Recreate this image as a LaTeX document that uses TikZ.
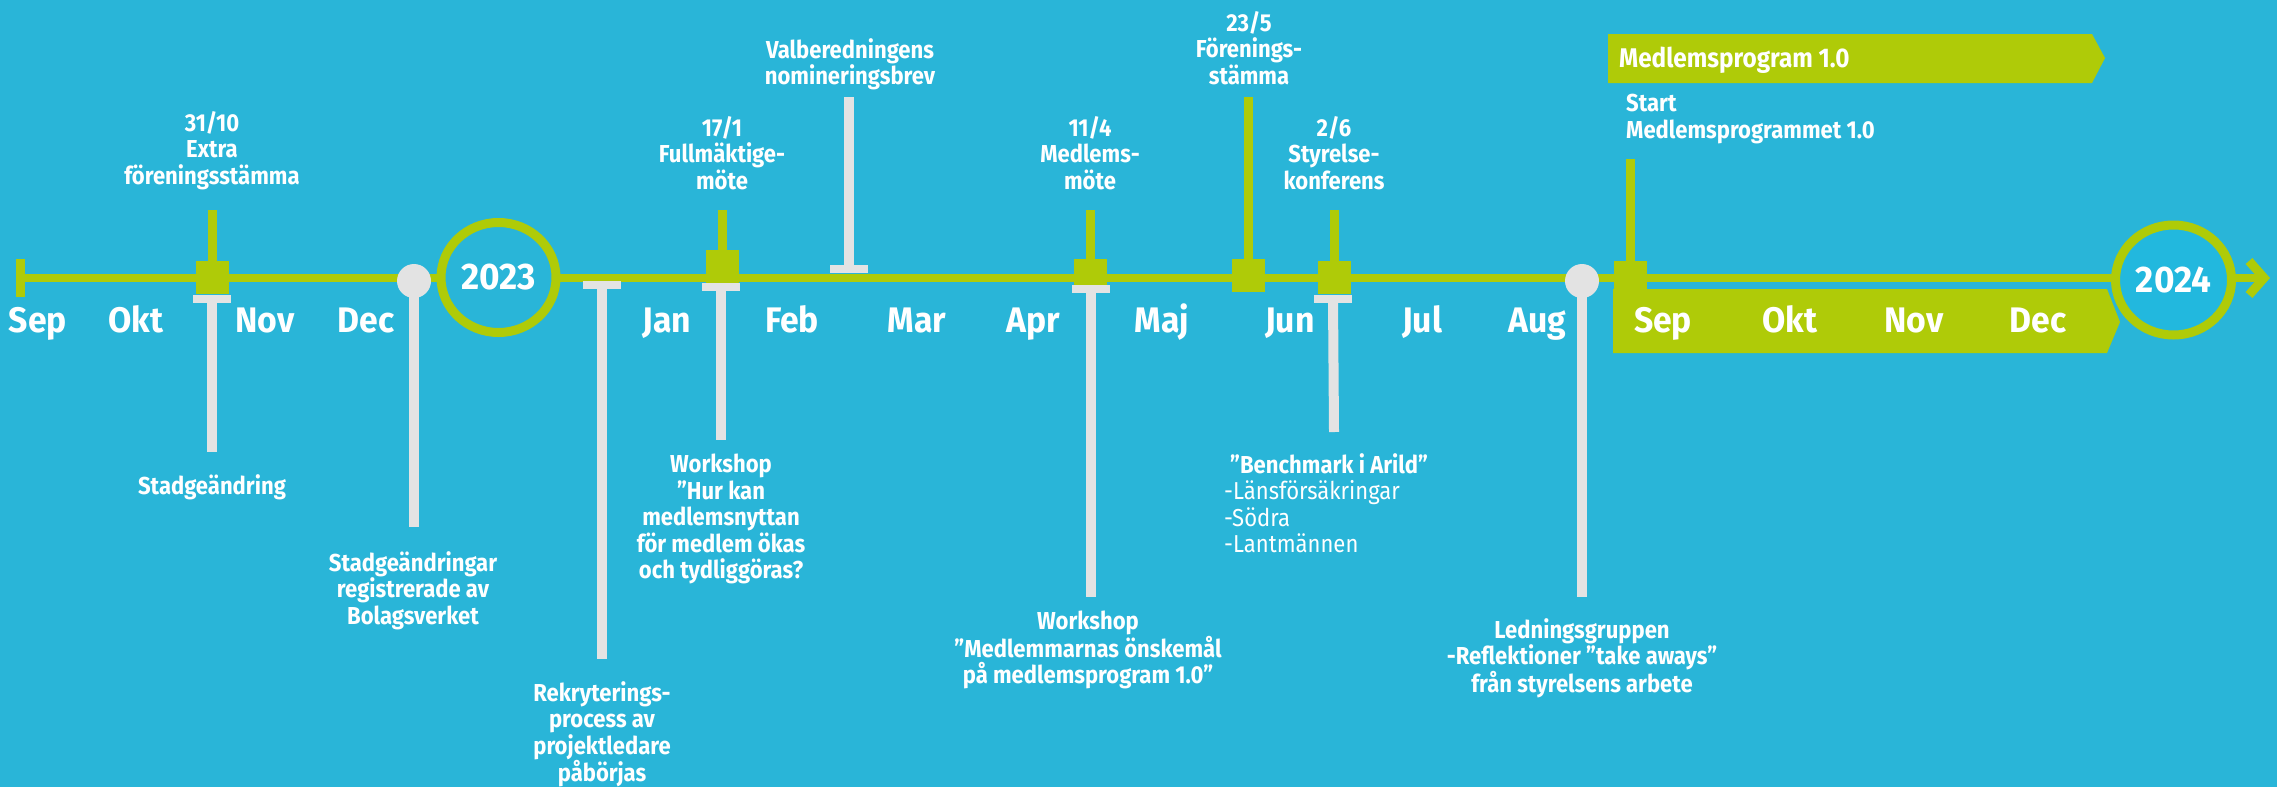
\documentclass[tikz,border=0pt]{standalone}
\usepackage{fontspec}
\setmainfont{Fira Sans}[FakeStretch=0.9]
\newfontfamily\monthfont{Fira Sans}[FakeStretch=0.95]
\usetikzlibrary{shapes.geometric}
\definecolor{bg}{HTML}{29B5D8}
\definecolor{tlgreen}{HTML}{AFCB08}
\definecolor{tlgray}{HTML}{E3E3E3}
\definecolor{yearfill}{HTML}{22B8DE}
\begin{document}
\begin{tikzpicture}[x=1pt,y=-1pt,
  lbl/.style={text=white,font=\bfseries\fontsize{24.5}{26.5}\selectfont,align=center,inner sep=0pt,anchor=north},
  lbll/.style={lbl,align=left,anchor=north west},
  month/.style={text=white,font=\monthfont\bfseries\fontsize{35.5}{35.5}\selectfont,anchor=base,inner sep=0pt},
  gstick/.style={draw=tlgreen,line width=9pt},
  ystick/.style={draw=tlgray,line width=10pt},
  sq/.style={fill=tlgreen,minimum size=33pt,inner sep=0pt},
  gbar/.style={fill=tlgray,minimum width=38pt,minimum height=8pt,inner sep=0pt},
  gdot/.style={circle,fill=tlgray,minimum size=34pt,inner sep=0pt},
  yearc/.style={ellipse,draw=tlgreen,line width=9pt,minimum width=115pt,minimum height=110pt,inner sep=0pt,text=white,font=\monthfont\bfseries\fontsize{37}{37}\selectfont},
]
\fill[bg] (0,0) rectangle (2277,787);
\useasboundingbox (0,0) rectangle (2277,787);

% main line
\coordinate (start) at (20,278);
\coordinate (tip) at (2264,278);
\draw[tlgreen,line width=8pt] (start) -- (tip);
\fill[tlgreen] (15.5,259) rectangle (24.5,297);
\draw[tlgreen,line width=9pt] (2249,261) -- (tip) -- (2249,295);

% 2024 band
\fill[tlgreen] (1613,289) -- (2107,289) -- (2120,322) -- (2107,353) -- (1613,353) -- cycle;
% banner
\fill[tlgreen] (1608,34) -- (2092,34) -- (2105,58) -- (2092,83) -- (1608,83) -- cycle;
\node[text=white,font=\bfseries\fontsize{27}{27}\selectfont,anchor=base west,inner sep=0pt] (banner) at (1619,67) {Medlemsprogram 1.0};

% year circles
\node[yearc,fill=bg] (y23) at (498.5,277.5) {2023};
\node[yearc,fill=yearfill,minimum width=116pt,minimum height=110pt] (y24) at (2173.5,280) {2024};

% months
\foreach \m/\x in {Sep/38,Okt/136,Nov/265,Dec/366,Jan/667,Feb/792,Mar/917,Apr/1033,Maj/1162,Jun/1290,Jul/1422,Aug/1537,Sep/1663,Okt/1790,Nov/1914,Dec/2038}
  \node[month] (mon-\x) at (\x,332) {\m};

% ---------- labels ----------
\node[lbl] (l3110) at (212,111) {31/10\\Extra\\föreningsstämma};
\node[lbl] (lstad) at (212,474) {Stadgeändring};
\node[lbl] (lreg) at (413,551) {Stadgeändringar\\registrerade av\\Bolagsverket};
\node[lbl] (lrek) at (602,681) {Rekryterings-\\process av\\projektledare\\påbörjas};
\node[lbl] (l171) at (722,116) {17/1\\Fullmäktige-\\möte};
\node[lbl] (lws1) at (721,454) {Workshop\\”Hur kan\\medlemsnyttan\\för medlem ökas\\och tydliggöras?};
\node[lbl] (lval) at (850,38) {Valberedningens\\nomineringsbrev};
\node[lbl] (l114) at (1090,116) {11/4\\Medlems-\\möte};
\node[lbl] (lws2) at (1088,611) {Workshop\\”Medlemmarnas önskemål\\på medlemsprogram 1.0”};
\node[lbl] (l235) at (1249,11) {23/5\\Förenings-\\stämma};
\node[lbl] (l26) at (1334,116) {2/6\\Styrelse-\\konferens};
\node[lbll] (lbench) at (1224,453) {\hspace*{6pt}”Benchmark i Arild”\\{\mdseries -Länsförsäkringar}\\{\mdseries -Södra}\\{\mdseries -Lantmännen}};
\node[lbl] (lled) at (1582,618) {Ledningsgruppen\\-Reflektioner ”take aways”\\från styrelsens arbete};
\node[lbll] (lstart) at (1626,94) {Start\\Medlemsprogrammet 1.0};

% ---------- gray stems (below / above) ----------
\node[gbar] (b3110) at (212,299) {};
\coordinate (e3110) at (212,452);
\draw[ystick] (b3110.center) -- (e3110);

\node[gbar] (brek) at (602,285) {};
\coordinate (erek) at (602,659);
\draw[ystick] (brek.center) -- (erek);

\node[gbar] (bval) at (849,269) {};
\coordinate (eval) at (849,97);
\draw[ystick] (bval.center) -- (eval);

\coordinate (e171) at (721,440);
\coordinate (e114) at (1091,597);
\coordinate (e26) at (1334,432);

\node[gdot] (ddec) at (414,281) {};
\coordinate (edec) at (414,527);
\draw[ystick] (ddec.center) -- (edec);

\node[gdot] (daug) at (1582,281) {};
\coordinate (eaug) at (1582,597);
\draw[ystick] (daug.center) -- (eaug);

% ---------- green markers ----------
\node[sq] (s3110) at (212,277.5) {};
\coordinate (t3110) at (212,210);
\draw[gstick] (s3110.center) -- (t3110);

\node[sq] (s171) at (722,266.5) {};
\coordinate (t171) at (722,210);
\draw[gstick] (s171.center) -- (t171);

\node[sq] (s114) at (1090,275.5) {};
\coordinate (t114) at (1090,210);
\draw[gstick] (s114.center) -- (t114);

\node[sq] (s235) at (1248.5,275.5) {};
\coordinate (t235) at (1248.5,97);
\draw[gstick] (s235.center) -- (t235);

\node[sq] (s26) at (1334,277.5) {};
\coordinate (t26) at (1334,210);
\draw[gstick] (s26.center) -- (t26);

\node[sq] (sstart) at (1630,277.5) {};
\coordinate (tstart) at (1630,159);
\draw[gstick] (sstart.center) -- (tstart);

% gray T bars below green markers
\node[gbar] (b171) at (721,287) {};
\draw[ystick] (b171.center) -- (e171);
\node[gbar] (b114) at (1091,289) {};
\draw[ystick] (b114.center) -- (e114);
\node[gbar] (b26) at (1333,299) {};
\draw[ystick] (b26.center) -- (e26);
\node[gbar] (b3110b) at (212,299) {};
\end{tikzpicture}
\end{document}
